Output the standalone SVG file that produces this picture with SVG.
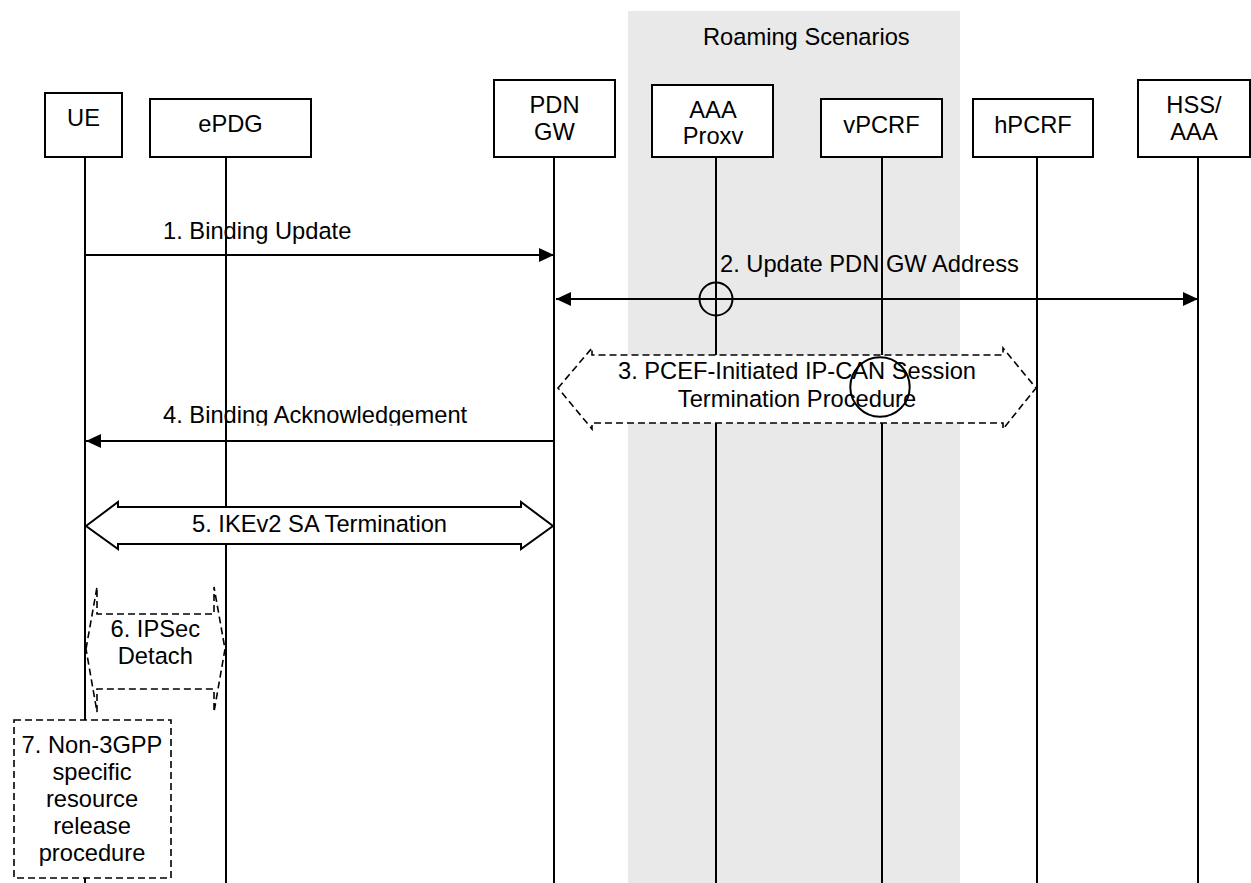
<svg xmlns="http://www.w3.org/2000/svg" width="1251" height="883" viewBox="0 0 1251 883">
<style>
text{font-family:"Liberation Sans",Arial,sans-serif;font-size:23.7px;fill:#000}
.m{text-anchor:middle}
.box{fill:#fff;stroke:#000;stroke-width:2}
.life{stroke:#000;stroke-width:2;fill:none}
.msg{stroke:#000;stroke-width:2;fill:none}
.dash{fill:#fff;stroke:#000;stroke-width:1.6;stroke-dasharray:7 4}
.solid{fill:#fff;stroke:#000;stroke-width:2}
.ring{fill:none;stroke:#000;stroke-width:2}
</style>
<defs>
<marker id="ah" markerWidth="16" markerHeight="14" refX="15" refY="7" orient="auto" markerUnits="userSpaceOnUse">
<path d="M0,0 L15,7 L0,14 Z" fill="#000"/>
</marker>
<marker id="as" markerWidth="16" markerHeight="14" refX="1" refY="7" orient="auto" markerUnits="userSpaceOnUse">
<path d="M16,0 L1,7 L16,14 Z" fill="#000"/>
</marker>
<clipPath id="clip4"><rect x="150" y="395" width="340" height="30.5"/></clipPath>
</defs>
<rect id="roaming" x="628" y="11" width="332" height="872" fill="#e9e9e9"/>
<text x="703" y="45">Roaming Scenarios</text>
<g id="lifelines">
<line class="life" x1="85" y1="157" x2="85" y2="883"/>
<line class="life" x1="226" y1="157" x2="226" y2="883"/>
<line class="life" x1="554" y1="157" x2="554" y2="883"/>
<line class="life" x1="716" y1="157" x2="716" y2="883"/>
<line class="life" x1="882" y1="157" x2="882" y2="883"/>
<line class="life" x1="1037" y1="157" x2="1037" y2="883"/>
<line class="life" x1="1198" y1="157" x2="1198" y2="883"/>
</g>
<g id="UE"><rect class="box" x="45" y="93" width="77" height="64"/><text class="m" x="83.5" y="126">UE</text></g>
<g id="ePDG"><rect class="box" x="150" y="99" width="161" height="58"/><text class="m" x="230.5" y="131.5">ePDG</text></g>
<g id="PDNGW"><rect class="box" x="494" y="80" width="121" height="77"/><text class="m" x="554.5" y="113">PDN</text><text class="m" x="554.5" y="140">GW</text></g>
<g id="AAAProxy"><rect class="box" x="652" y="85" width="121" height="72"/><text class="m" x="713" y="117.5">AAA</text><text class="m" x="713" y="144">Proxv</text></g>
<g id="vPCRF"><rect class="box" x="821" y="99" width="121" height="58"/><text class="m" x="881.5" y="132.5">vPCRF</text></g>
<g id="hPCRF"><rect class="box" x="973" y="99" width="120" height="58"/><text class="m" x="1033" y="132.5">hPCRF</text></g>
<g id="HSSAAA"><rect class="box" x="1138" y="80" width="112" height="77"/><text class="m" x="1194" y="113">HSS/</text><text class="m" x="1194" y="140">AAA</text></g>
<g id="step3"><path class="dash" d="M558,388 L592,348 L592,355 L1003,355 L1003,348 L1036,388 L1003,429 L1003,423 L592,423 L592,429 Z"/>
<text class="m" x="797" y="379">3. PCEF-Initiated IP-CAN Session</text><text class="m" x="797" y="406.5">Termination Procedure</text></g>
<g id="step5"><path class="solid" d="M86,526 L118,502 L118,507 L521,507 L521,502 L553,526 L521,549 L521,544 L118,544 L118,549 Z"/>
<text class="m" x="319.5" y="531.5">5. IKEv2 SA Termination</text></g>
<g id="step6"><path class="dash" d="M86,649 L97,587 L97,614 L214,614 L214,587 L225,649 L214,712 L214,689 L97,689 L97,712 Z"/>
<text class="m" x="155.3" y="637">6. IPSec</text><text class="m" x="155.3" y="664">Detach</text></g>
<g id="step7"><rect class="dash" x="14" y="720" width="157" height="158"/>
<text class="m" x="92" y="752.5">7. Non-3GPP</text><text class="m" x="92" y="779.5">specific</text><text class="m" x="92" y="806.5">resource</text><text class="m" x="92" y="833.5">release</text><text class="m" x="92" y="861">procedure</text></g>
<g id="connectors">
<line class="msg" x1="86" y1="255" x2="554" y2="255" marker-end="url(#ah)"/>
<line class="msg" x1="556" y1="299" x2="1198" y2="299" marker-start="url(#as)" marker-end="url(#ah)"/>
<circle class="ring" cx="716" cy="299" r="16.5"/>
<circle class="ring" cx="880" cy="387" r="29.7"/>
<line class="msg" x1="554" y1="441" x2="86" y2="441" marker-end="url(#ah)"/>
<text x="163" y="239">1. Binding Update</text>
<text x="720" y="272">2. Update PDN GW Address</text>
<text x="163" y="423" clip-path="url(#clip4)">4. Binding Acknowledgement</text>
</g>
</svg>
